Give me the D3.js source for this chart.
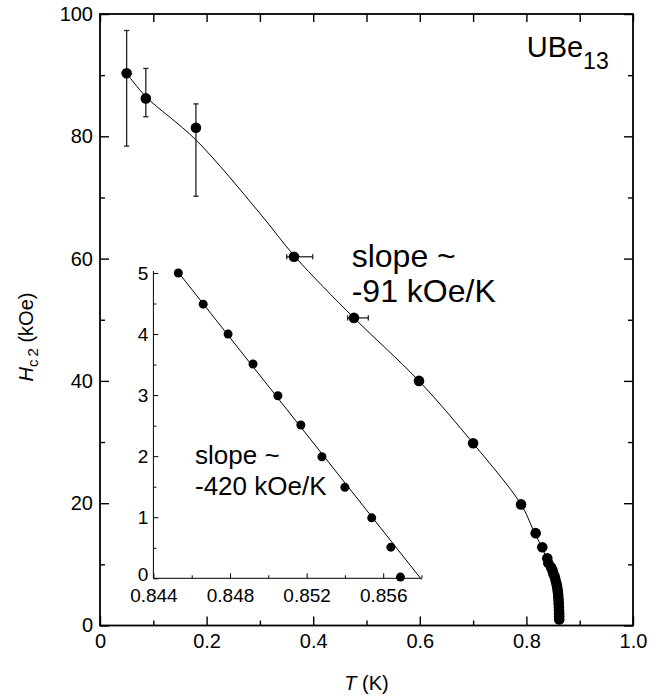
<!DOCTYPE html>
<html>
<head>
<meta charset="utf-8">
<script src="https://cdn.jsdelivr.net/npm/d3@7"></script>
<style>
  html, body { margin: 0; padding: 0; background: #fff; }
  svg { display: block; font-family: "Liberation Sans", Arial, Helvetica, sans-serif; }
  text { fill: #000; }
</style>
</head>
<body>
<svg id="chart" width="670" height="698"></svg>
<script>
// ---- Upper critical field of UBe13: H_c2 (kOe) versus T (K) ----

// Main panel: measured points
const mainT = [0.050, 0.086, 0.180, 0.364, 0.4765, 0.5985, 0.700, 0.790,
               0.8174, 0.8298, 0.8392, 0.8411, 0.8465, 0.8490, 0.8505, 0.8530,
               0.8545, 0.8560, 0.8572, 0.8582, 0.8590, 0.8596, 0.8600, 0.8604,
               0.8607, 0.8610, 0.8612, 0.8614, 0.8615, 0.8616];
const mainH = [90.3, 86.2, 81.4, 60.3, 50.3, 40.0, 29.8, 19.8,
               15.1, 12.8, 11.0, 10.2, 9.5, 9.0, 8.5, 8.0,
               7.5, 7.0, 6.5, 6.0, 5.5, 5.0, 4.5, 4.0,
               3.5, 3.0, 2.5, 2.0, 1.5, 1.0];

// Vertical error bars (field) on the lowest-temperature points
const errHIndex = [0, 1, 2];
const errHLow   = [78.4, 83.2, 70.2];
const errHHigh  = [97.3, 91.1, 85.3];

// Horizontal error bars (temperature)
const errTIndex = [3, 4];
const errTLow   = [0.3503, 0.4647];
const errTHigh  = [0.3991, 0.5034];

// Guide curve through the main data
const fitT = [0.050, 0.086, 0.180, 0.300, 0.366, 0.4765, 0.5985, 0.700, 0.790, 0.813, 0.835, 0.850, 0.8575, 0.8605, 0.8616];
const fitH = [90.3, 86.5, 79.4, 67.4, 60.3, 50.3, 40.0, 29.8, 19.8, 15.6, 11.6, 8.0, 5.2, 2.5, 1.0];

// Inset: close-up near T_c
const insetT = [0.8453, 0.8466, 0.8479, 0.8492, 0.8505, 0.8517, 0.8528, 0.8540, 0.8554, 0.8564, 0.8569];
const insetH = [5.00, 4.49, 4.00, 3.51, 2.99, 2.51, 1.99, 1.49, 0.99, 0.51, 0.02];
const insetFitT = [0.8452, 0.8580];
const insetFitH = [5.05, -0.02];

// Axis ticks
const xMajor = [0, 0.2, 0.4, 0.6, 0.8, 1.0];
const xMajorLabels = ["0", "0.2", "0.4", "0.6", "0.8", "1.0"];
const xMinor = [0.1, 0.3, 0.5, 0.7, 0.9];
const yMajor = [0, 20, 40, 60, 80, 100];
const yMajorLabels = ["0", "20", "40", "60", "80", "100"];
const yMinor = [10, 30, 50, 70, 90];

const ixMajor = [0.844, 0.848, 0.852, 0.856];
const ixMajorLabels = ["0.844", "0.848", "0.852", "0.856"];
const ixMinor = [0.846, 0.850, 0.854, 0.858];
const iyMajor = [0, 1, 2, 3, 4, 5];
const iyMajorLabels = ["0", "1", "2", "3", "4", "5"];
const iyMinor = [0.5, 1.5, 2.5, 3.5, 4.5];

const svg = d3.select("#chart");

// ---------- main panel ----------
const x = d3.scaleLinear().domain([0, 1.0]).range([100, 633]);
const y = d3.scaleLinear().domain([0, 100]).range([625.5, 14]);

const FS = 20;

function styleAxis(g, w) {
  g.select(".domain").remove();
  g.selectAll(".tick line").attr("stroke", "#000").attr("stroke-width", w);
  g.selectAll(".tick text").attr("font-size", FS).attr("fill", "#000");
}

// bottom
svg.append("g").attr("transform", `translate(0,${y(0)})`)
  .call(d3.axisBottom(x).tickValues(xMajor).tickSize(-9).tickSizeOuter(0).tickPadding(8)
        .tickFormat((d, i) => xMajorLabels[i]))
  .call(g => styleAxis(g, 1.4));
svg.append("g").attr("transform", `translate(0,${y(0)})`)
  .call(d3.axisBottom(x).tickValues(xMinor).tickSize(-5).tickFormat(""))
  .call(g => styleAxis(g, 1.4));
// top
svg.append("g").attr("transform", `translate(0,${y(100)})`)
  .call(d3.axisTop(x).tickValues(xMajor.concat(xMinor)).tickSize(-8).tickFormat(""))
  .call(g => styleAxis(g, 1.4));
// left
svg.append("g").attr("transform", `translate(${x(0)},0)`)
  .call(d3.axisLeft(y).tickValues(yMajor).tickSize(-9).tickSizeOuter(0).tickPadding(7)
        .tickFormat((d, i) => yMajorLabels[i]))
  .call(g => styleAxis(g, 1.4));
svg.append("g").attr("transform", `translate(${x(0)},0)`)
  .call(d3.axisLeft(y).tickValues(yMinor).tickSize(-5).tickFormat(""))
  .call(g => styleAxis(g, 1.4));
// right
svg.append("g").attr("transform", `translate(${x(1)},0)`)
  .call(d3.axisRight(y).tickValues(yMajor).tickSize(-9).tickFormat(""))
  .call(g => styleAxis(g, 1.4));
svg.append("g").attr("transform", `translate(${x(1)},0)`)
  .call(d3.axisRight(y).tickValues(yMinor).tickSize(-5).tickFormat(""))
  .call(g => styleAxis(g, 1.4));

// frame
svg.append("rect")
  .attr("x", x(0)).attr("y", y(100))
  .attr("width", x(1) - x(0)).attr("height", y(0) - y(100))
  .attr("fill", "none").attr("stroke", "#000").attr("stroke-width", 1.8);

// guide curve
const fitPts = fitT.map((t, i) => [t, fitH[i]]);
svg.append("path")
  .datum(fitPts)
  .attr("d", d3.line().x(d => x(d[0])).y(d => y(d[1])).curve(d3.curveCatmullRom.alpha(0.5)))
  .attr("fill", "none").attr("stroke", "#000").attr("stroke-width", 1);

// error bars
const cap = 2.6;
const eb = svg.append("g").attr("stroke", "#222").attr("stroke-width", 1.3).attr("fill", "none");
errHIndex.forEach((k, i) => {
  const cx = x(mainT[k]);
  eb.append("line").attr("x1", cx).attr("x2", cx).attr("y1", y(errHLow[i])).attr("y2", y(errHHigh[i]));
  eb.append("line").attr("x1", cx - cap).attr("x2", cx + cap).attr("y1", y(errHLow[i])).attr("y2", y(errHLow[i]));
  eb.append("line").attr("x1", cx - cap).attr("x2", cx + cap).attr("y1", y(errHHigh[i])).attr("y2", y(errHHigh[i]));
});
errTIndex.forEach((k, i) => {
  const cy = y(mainH[k]);
  eb.append("line").attr("y1", cy).attr("y2", cy).attr("x1", x(errTLow[i])).attr("x2", x(errTHigh[i]));
  eb.append("line").attr("y1", cy - cap).attr("y2", cy + cap).attr("x1", x(errTLow[i])).attr("x2", x(errTLow[i]));
  eb.append("line").attr("y1", cy - cap).attr("y2", cy + cap).attr("x1", x(errTHigh[i])).attr("x2", x(errTHigh[i]));
});

// data points
svg.append("g").selectAll("circle")
  .data(mainT.map((t, i) => [t, mainH[i]]))
  .join("circle")
  .attr("cx", d => x(d[0])).attr("cy", d => y(d[1])).attr("r", 5.3)
  .attr("fill", "#000");

// axis titles
svg.append("text")
  .attr("x", (x(0) + x(1)) / 2).attr("y", 690)
  .attr("text-anchor", "middle").attr("font-size", FS)
  .call(t => {
    t.append("tspan").attr("font-style", "italic").text("T");
    t.append("tspan").text(" (K)");
  });

svg.append("text")
  .attr("transform", "translate(33,337) rotate(-90)")
  .attr("text-anchor", "middle").attr("font-size", FS)
  .call(t => {
    t.append("tspan").attr("font-style", "italic").text("H");
    t.append("tspan").attr("font-size", 15).attr("dy", 5).text("c");
    t.append("tspan").attr("font-size", 15).attr("dx", 3).text("2");
    t.append("tspan").attr("dy", -5).text(" (kOe)");
  });

// compound label
svg.append("text")
  .attr("x", 526.7).attr("y", 57.3).attr("font-size", 29)
  .call(t => {
    t.append("tspan").text("UBe");
    t.append("tspan").attr("font-size", 23).attr("dy", 12).text("13");
  });

// slope note for the main curve
svg.append("text").attr("x", 351.7).attr("y", 267.3).attr("font-size", 32).text("slope ~");
svg.append("text").attr("x", 351.7).attr("y", 301.7).attr("font-size", 32).text("-91 kOe/K");

// ---------- inset ----------
const xi = d3.scaleLinear().domain([0.844, 0.858]).range([153.4, 421.5]);
const yi = d3.scaleLinear().domain([0, 5]).range([578.3, 273]);
const FSI = 19;

function styleInset(g) {
  g.select(".domain").remove();
  g.selectAll(".tick line").attr("stroke", "#000").attr("stroke-width", 1);
  g.selectAll(".tick text").attr("font-size", FSI).attr("fill", "#000");
}

svg.append("g").attr("transform", `translate(0,${yi(0)})`)
  .call(d3.axisBottom(xi).tickValues(ixMajor).tickSize(-5).tickPadding(10.5)
        .tickFormat((d, i) => ixMajorLabels[i]))
  .call(styleInset);
svg.append("g").attr("transform", `translate(0,${yi(0)})`)
  .call(d3.axisBottom(xi).tickValues(ixMinor).tickSize(-3).tickFormat(""))
  .call(styleInset);
svg.append("g").attr("transform", `translate(${xi(0.844)},0)`)
  .call(d3.axisLeft(yi).tickValues(iyMajor).tickSize(-5).tickPadding(5)
        .tickFormat((d, i) => iyMajorLabels[i]))
  .call(styleInset)
  // lift the lowest label clear of the x labels below it
  .call(g => g.selectAll(".tick text").filter(d => d === 0).attr("dy", "0.1em"));
svg.append("g").attr("transform", `translate(${xi(0.844)},0)`)
  .call(d3.axisLeft(yi).tickValues(iyMinor).tickSize(-3).tickFormat(""))
  .call(styleInset);

// inset axis lines
svg.append("path")
  .attr("d", `M${xi(0.844)},${yi(5) - 2}V${yi(0)}H${xi(0.858)}`)
  .attr("fill", "none").attr("stroke", "#000").attr("stroke-width", 1);

// inset linear fit
svg.append("path")
  .datum(insetFitT.map((t, i) => [t, insetFitH[i]]))
  .attr("d", d3.line().x(d => xi(d[0])).y(d => yi(d[1])))
  .attr("fill", "none").attr("stroke", "#000").attr("stroke-width", 1);

svg.append("g").selectAll("circle")
  .data(insetT.map((t, i) => [t, insetH[i]]))
  .join("circle")
  .attr("cx", d => xi(d[0])).attr("cy", d => yi(d[1])).attr("r", 4.5)
  .attr("fill", "#000");

// slope note for the inset
svg.append("text").attr("x", 195).attr("y", 464.3).attr("font-size", 26).text("slope ~");
svg.append("text").attr("x", 195).attr("y", 495).attr("font-size", 26).text("-420 kOe/K");
</script>
</body>
</html>
